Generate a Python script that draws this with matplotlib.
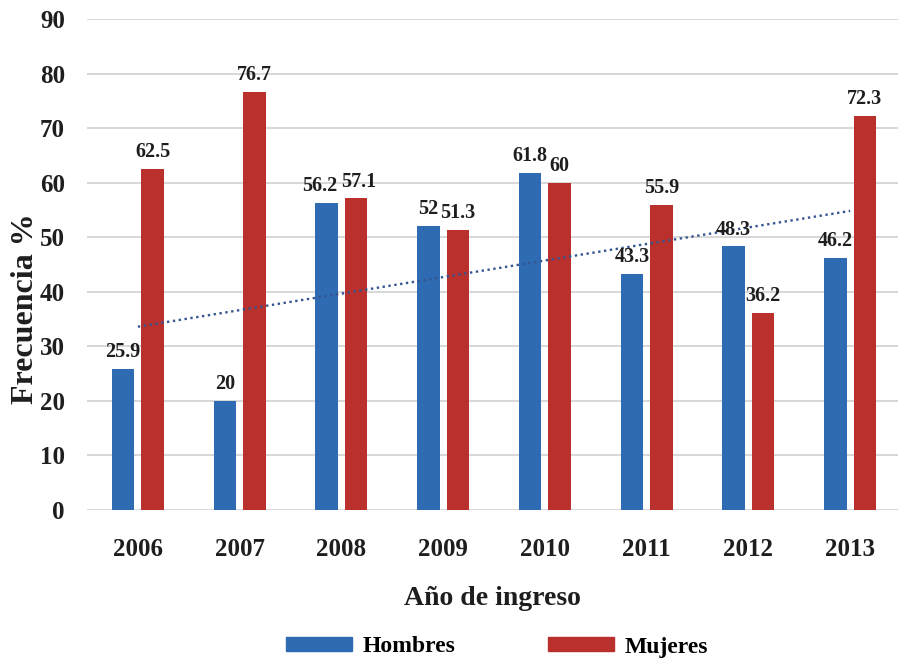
import numpy as np
import matplotlib
matplotlib.use("Agg")
import matplotlib.pyplot as plt
from matplotlib.patches import Patch

years = ["2006", "2007", "2008", "2009", "2010", "2011", "2012", "2013"]
hombres = [25.9, 20, 56.2, 52, 61.8, 43.3, 48.3, 46.2]
mujeres = [62.5, 76.7, 57.1, 51.3, 60, 55.9, 36.2, 72.3]
hombres_labels = ["25.9", "20", "56.2", "52", "61.8", "43.3", "48.3", "46.2"]
mujeres_labels = ["62.5", "76.7", "57.1", "51.3", "60", "55.9", "36.2", "72.3"]

BLUE = "#2E6BB2"
RED = "#B9302C"
SERIF = "Liberation Serif"

# horizontal nudges (points) for value labels that would otherwise collide
h_nudge = {2: -5.0}
m_nudge = {2: 1.5}

fig = plt.figure(figsize=(8.99, 6.64), dpi=100)
ax = fig.add_axes([87 / 899, 154 / 664, 811 / 899, 491 / 664])

x = np.arange(len(years))
w = 0.22
off = 0.145
ax.bar(x - off, hombres, width=w, color=BLUE, zorder=3)
ax.bar(x + off, mujeres, width=w, color=RED, zorder=3)

# linear trend of the Hombres series
slope, intercept = np.polyfit(x, hombres, 1)
ax.plot(x, slope * x + intercept, linestyle=(0, (1, 1.5)), color="#34558F",
        linewidth=1.7, zorder=4)

for i, (xi, v, s) in enumerate(zip(x, hombres, hombres_labels)):
    ax.annotate(s, (xi - off, v), xytext=(h_nudge.get(i, 0), 5),
                textcoords="offset points",
                ha="center", va="bottom", fontsize=14.5, fontweight="bold",
                family=SERIF, color="#1E1E1E", zorder=5)
for i, (xi, v, s) in enumerate(zip(x, mujeres, mujeres_labels)):
    ax.annotate(s, (xi + off, v), xytext=(m_nudge.get(i, 0), 5),
                textcoords="offset points",
                ha="center", va="bottom", fontsize=14.5, fontweight="bold",
                family=SERIF, color="#1E1E1E", zorder=5)

ax.set_xlim(-0.5, 7.47)
ax.set_ylim(0, 90)
ax.set_yticks(np.arange(0, 91, 10))
ax.set_xticks(x)
ax.set_xticklabels(years)
ax.grid(axis="y", color="#D4D4D4", linewidth=1.3, zorder=0)
ax.set_axisbelow(True)
for sp in ax.spines.values():
    sp.set_visible(False)
ax.tick_params(axis="both", length=0, labelsize=18, colors="#1E1E1E")
ax.tick_params(axis="x", pad=20)
ax.tick_params(axis="y", pad=16)
for lab in ax.get_xticklabels() + ax.get_yticklabels():
    lab.set_fontfamily(SERIF)
    lab.set_fontweight("bold")

ax.set_xlabel("Año de ingreso", fontsize=20, fontweight="bold", family=SERIF,
              color="#1E1E1E", labelpad=18)
ax.set_ylabel("Frecuencia %", fontsize=23, fontweight="bold", family=SERIF,
              color="#1E1E1E")
ax.yaxis.set_label_coords(-0.058, 0.41)

handles = [Patch(color=BLUE, label="Hombres"), Patch(color=RED, label="Mujeres")]
leg = fig.legend(handles=handles, loc="center", bbox_to_anchor=(497 / 899, 1 - 647 / 664),
                 ncol=2, frameon=False, handlelength=2.8, handleheight=0.5,
                 columnspacing=3.9, handletextpad=0.45,
                 prop={"family": SERIF, "weight": "bold", "size": 17})

fig.savefig("out.png", dpi=100)
